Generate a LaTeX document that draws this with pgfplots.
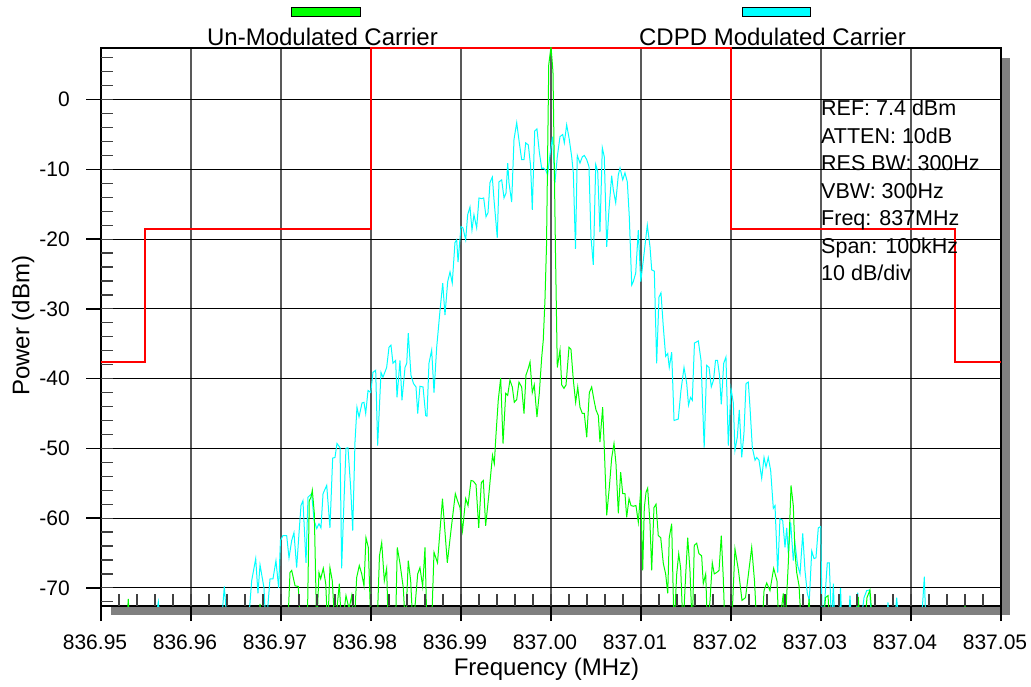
\documentclass[border=0pt]{standalone}
\usepackage{fontspec}
\setmainfont{Liberation Sans}
\usepackage{pgfplots}
\pgfplotsset{compat=1.18}
\definecolor{specgreen}{RGB}{0,255,0}
\definecolor{speccyan}{RGB}{0,255,255}
% x data: frequency offset from the 837 MHz centre, in kHz (tick labels show MHz)
\begin{document}
\begin{tikzpicture}
\useasboundingbox (0pt,0pt) rectangle (1031pt,686pt);
\fill[black!50] (111pt,71pt) rectangle (1010pt,628pt);
\begin{axis}[
  at={(101pt,80pt)}, anchor=south west, scale only axis,
  width=900pt, height=558pt,
  xmin=-50, xmax=50, ymin=-72.6, ymax=7.4,
  xtick={-50,-40,-30,-20,-10,0,10,20,30,40,50},
  xticklabels={836.95,836.96,836.97,836.98,836.99,837.00,837.01,837.02,837.03,837.04,837.05},
  ytick={-70,-60,-50,-40,-30,-20,-10,0},
  yticklabels={-70,-60,-50,-40,-30,-20,-10,0},
  tick pos=left, tick align=outside, major tick length=15pt,
  major tick style={black, line width=1.3pt},
  grid=major,
  x grid style={black!65, line width=1.4pt},
  y grid style={black, line width=1pt},
  axis line style={black, line width=1.3pt},
  axis background/.style={fill=white},
  ticklabel style={font=\fontsize{21}{24}\selectfont, inner sep=0pt},
  xticklabel style={anchor=north, yshift=-14pt, xshift=-6pt},
  yticklabel style={anchor=east, xshift=-16pt},
  xlabel={Frequency (MHz)}, ylabel={Power (dBm)},
  label style={font=\fontsize{24}{28}\selectfont, inner sep=0pt},
  xlabel style={at={(axis description cs:0.495,-0.1237)}, anchor=base},
  ylabel style={at={(axis description cs:-0.0795,0.502)}, anchor=base},
]
\addplot[draw=red, color=red, line width=2pt] coordinates {(-50,-37.6)(-45.1,-37.6)(-45.1,-18.6)(-20,-18.6)(-20,7.4)(20,7.4)(20,-18.6)(44.9,-18.6)(44.9,-37.6)(50,-37.6)};
\addplot[speccyan, line width=1pt] coordinates {(-50,-76)(-44.11,-76)(-43.63,-72.0)(-43.33,-76)(-36.67,-76)(-36.30,-69.8)(-35.94,-76)(-33.67,-76)(-33.26,-69.0)(-32.81,-65.8)(-32.56,-70.8)(-32.33,-66.7)(-31.89,-70.0)(-31.67,-76)(-31.22,-68.7)(-30.89,-68.7)(-30.56,-66.1)(-30.26,-70.0)(-30.06,-63.2)(-29.78,-62.5)(-29.37,-62.5)(-29.11,-65.7)(-28.81,-63.2)(-28.56,-62.1)(-28.26,-67.1)(-28.00,-62.2)(-27.78,-58.2)(-27.56,-57.5)(-27.22,-66.4)(-27.00,-57.0)(-26.59,-56.5)(-26.33,-60.3)(-26.03,-61.5)(-25.78,-60.8)(-25.56,-61.4)(-25.33,-56.5)(-24.92,-55.3)(-24.56,-61.4)(-24.26,-51.4)(-24.00,-51.3)(-23.78,-49.3)(-23.44,-49.9)(-23.26,-67.2)(-23.00,-57.5)(-22.78,-50.0)(-22.56,-49.9)(-22.26,-55.6)(-22.03,-61.8)(-21.78,-49.1)(-21.56,-44.1)(-21.33,-45.5)(-21.00,-43.5)(-20.78,-43.4)(-20.59,-45.0)(-20.33,-41.7)(-20.03,-42.0)(-19.78,-39.1)(-19.48,-38.8)(-19.26,-49.6)(-18.89,-39.1)(-18.67,-39.8)(-18.26,-38.4)(-18.00,-35.5)(-17.78,-35.2)(-17.56,-37.8)(-17.26,-37.4)(-17.11,-42.7)(-16.78,-37.4)(-16.56,-43.1)(-16.22,-38.4)(-16.03,-37.8)(-15.86,-33.5)(-15.56,-39.5)(-15.28,-40.7)(-15.00,-41.2)(-14.81,-45.0)(-14.56,-41.1)(-14.22,-41.2)(-13.92,-45.3)(-13.78,-45.4)(-13.56,-37.8)(-13.26,-35.9)(-13.00,-42.0)(-12.70,-35.5)(-12.33,-30.2)(-12.03,-26.3)(-11.78,-30.9)(-11.48,-26.1)(-11.22,-24.7)(-10.97,-26.3)(-10.67,-20.5)(-10.48,-20.1)(-10.33,-23.3)(-10.00,-18.2)(-9.78,-18.4)(-9.48,-20.1)(-9.26,-16.5)(-9.00,-15.4)(-8.78,-18.7)(-8.56,-16.5)(-8.26,-18.4)(-8.00,-14.1)(-7.70,-14.2)(-7.48,-14.1)(-7.22,-16.8)(-7.00,-16.2)(-6.78,-11.9)(-6.52,-11.1)(-6.33,-14.4)(-5.97,-19.8)(-5.78,-11.8)(-5.48,-11.5)(-5.22,-14.1)(-5.00,-13.4)(-4.81,-9.1)(-4.67,-11.9)(-4.37,-14.7)(-4.11,-5.7)(-3.81,-3.3)(-3.52,-6.2)(-3.26,-8.6)(-3.00,-8.6)(-2.81,-6.2)(-2.52,-6.5)(-2.26,-9.6)(-2.08,-15.8)(-1.81,-4.5)(-1.56,-4.2)(-1.30,-7.5)(-1.03,-9.9)(-0.86,-9.8)(-0.59,-10.1)(-0.37,-10.8)(-0.11,-7.9)(0.17,-5.3)(0.44,-11.9)(0.70,-8.2)(1.00,-5.3)(1.30,-5.0)(1.48,-6.2)(1.74,-3.6)(2.03,-5.7)(2.30,-8.2)(2.48,-10.5)(2.72,-21.4)(2.92,-8.0)(3.22,-9.1)(3.48,-8.2)(3.70,-8.0)(3.97,-8.6)(4.22,-9.6)(4.44,-19.7)(4.70,-23.7)(4.97,-9.3)(5.19,-10.3)(5.44,-19.0)(5.70,-6.9)(5.92,-8.2)(6.19,-21.1)(6.44,-15.8)(6.74,-10.9)(6.92,-12.9)(7.19,-14.8)(7.48,-10.8)(7.67,-9.8)(7.97,-11.5)(8.22,-10.5)(8.48,-11.8)(8.70,-16.8)(8.97,-26.6)(9.14,-26.1)(9.41,-24.9)(9.70,-18.7)(9.97,-26.1)(10.26,-23.0)(10.70,-18.0)(11.00,-21.1)(11.19,-24.4)(11.48,-24.6)(11.74,-37.8)(12.00,-28.3)(12.22,-27.7)(12.48,-32.6)(12.74,-36.8)(12.97,-36.4)(13.14,-38.4)(13.41,-36.2)(13.67,-46.0)(14.14,-45.8)(14.44,-41.7)(14.78,-38.4)(15.08,-40.7)(15.28,-43.8)(15.50,-42.7)(15.70,-43.1)(15.94,-34.9)(16.37,-34.6)(16.67,-37.4)(17.02,-49.9)(17.30,-38.1)(17.56,-38.4)(17.81,-41.2)(18.06,-40.2)(18.28,-37.4)(18.50,-37.4)(18.72,-39.5)(18.92,-43.7)(19.19,-37.8)(19.44,-36.9)(19.70,-49.6)(20.00,-41.4)(20.26,-43.5)(20.44,-50.3)(20.70,-48.4)(20.92,-44.5)(21.19,-51.3)(21.44,-47.8)(21.67,-40.7)(21.92,-40.5)(22.11,-44.1)(22.37,-49.9)(22.67,-51.7)(22.86,-51.3)(23.11,-51.7)(23.41,-54.3)(23.67,-51.3)(23.89,-52.7)(24.14,-51.3)(24.41,-53.2)(24.70,-58.6)(24.89,-58.2)(25.19,-67.8)(25.44,-60.1)(25.74,-60.3)(26.00,-64.2)(26.19,-61.4)(26.37,-65.1)(26.63,-60.6)(26.92,-66.1)(27.11,-63.6)(27.41,-66.8)(27.67,-68.0)(27.97,-62.2)(28.22,-67.5)(28.48,-70.8)(28.70,-71.8)(28.97,-64.7)(29.22,-65.8)(29.44,-65.7)(29.70,-61.4)(29.97,-61.2)(30.14,-76)(30.44,-71.4)(30.70,-66.4)(30.92,-66.4)(31.19,-76)(31.37,-69.4)(31.56,-76)(32.00,-76)(32.17,-70.0)(32.33,-76)(33.00,-76)(33.22,-71.1)(33.44,-76)(33.83,-76)(34.08,-70.7)(34.33,-76)(34.78,-71.4)(35.08,-70.4)(35.39,-70.3)(35.72,-76)(37.22,-76)(37.44,-72.1)(37.67,-76)(38.11,-76)(38.41,-71.4)(38.67,-76)(41.11,-76)(41.48,-68.4)(41.67,-76)(50,-76)};
\addplot[specgreen, line width=1pt] coordinates {(-50,-76)(-47.17,-76)(-46.97,-71.6)(-46.78,-76)(-32.56,-76)(-32.33,-72.3)(-32.11,-76)(-29.26,-76)(-29.00,-67.8)(-28.81,-67.5)(-28.44,-69.7)(-28.08,-69.8)(-27.83,-76)(-27.08,-76)(-26.86,-57.5)(-26.67,-57.0)(-26.52,-56.0)(-26.30,-59.3)(-26.03,-76)(-25.78,-67.8)(-25.59,-68.7)(-25.30,-67.2)(-25.03,-69.4)(-24.81,-76)(-24.56,-67.1)(-24.30,-69.0)(-24.00,-76)(-23.52,-69.4)(-23.26,-76)(-22.78,-71.1)(-22.44,-73)(-22.14,-71.1)(-21.89,-76)(-21.59,-68.5)(-21.30,-66.8)(-21.03,-68.0)(-20.78,-69.7)(-20.56,-62.8)(-20.30,-64.2)(-20.00,-76)(-19.33,-76)(-19.06,-65.4)(-18.81,-63.5)(-18.52,-69.0)(-18.26,-67.2)(-18.08,-76)(-17.28,-76)(-17.08,-64.2)(-16.78,-66.5)(-16.41,-70.0)(-16.17,-76)(-15.86,-66.1)(-15.59,-69.0)(-15.33,-76)(-14.81,-68.0)(-14.56,-67.1)(-14.26,-69.8)(-14.00,-64.2)(-13.78,-76)(-13.28,-76)(-13.00,-64.9)(-12.61,-66.4)(-12.06,-57.2)(-11.52,-66.4)(-11.08,-61.4)(-10.63,-56.5)(-10.39,-57.5)(-10.11,-58.5)(-9.83,-61.8)(-9.48,-57.2)(-9.22,-58.2)(-8.89,-54.6)(-8.63,-54.7)(-8.33,-55.2)(-8.03,-61.4)(-7.74,-54.9)(-7.52,-54.6)(-7.26,-61.1)(-6.92,-56.8)(-6.50,-51.0)(-6.30,-52.2)(-6.11,-48.0)(-5.86,-43.1)(-5.59,-39.9)(-5.33,-49.3)(-5.03,-42.1)(-4.81,-42.4)(-4.56,-40.2)(-4.30,-41.2)(-4.08,-43.4)(-3.81,-43.0)(-3.56,-40.5)(-3.26,-41.2)(-3.00,-45.0)(-2.78,-39.5)(-2.52,-38.5)(-2.33,-37.6)(-2.08,-42.0)(-1.86,-40.9)(-1.56,-45.5)(-1.30,-42.1)(-1.03,-36.9)(-0.86,-34.5)(-0.67,-28.7)(-0.50,-21.0)(-0.25,5.0)(0,7.6)(0.22,4.0)(0.50,-22.0)(0.70,-38.4)(1.00,-35.9)(1.19,-40.9)(1.44,-41.4)(1.67,-40.9)(2.00,-35.5)(2.22,-35.8)(2.48,-40.2)(2.74,-43.4)(2.97,-41.2)(3.22,-44.1)(3.48,-45.0)(3.70,-45.0)(3.97,-48.4)(4.26,-42.0)(4.52,-41.2)(4.78,-43.1)(5.00,-44.5)(5.26,-45.3)(5.44,-49.1)(5.74,-44.1)(5.92,-49.9)(6.19,-59.6)(6.48,-55.6)(6.74,-51.4)(7.00,-49.3)(7.22,-52.2)(7.48,-59.3)(7.74,-53.4)(7.97,-56.5)(8.22,-56.5)(8.41,-59.9)(8.67,-57.2)(8.89,-58.2)(9.14,-58.3)(9.44,-58.2)(9.70,-60.6)(9.97,-56.0)(10.19,-67.5)(10.37,-58.5)(10.56,-56.3)(10.74,-55.7)(11.00,-60.8)(11.19,-67.5)(11.44,-58.5)(11.67,-58.0)(11.92,-62.5)(12.19,-62.8)(12.48,-66.5)(12.74,-68.0)(12.97,-70.8)(13.14,-62.8)(13.41,-60.8)(13.67,-76)(13.97,-68.0)(14.19,-65.1)(14.41,-67.2)(14.67,-76)(14.97,-68.0)(15.19,-62.8)(15.44,-67.5)(15.70,-76)(15.92,-63.9)(16.19,-63.6)(16.44,-65.1)(16.74,-65.4)(16.92,-69.4)(17.19,-68.0)(17.39,-76)(17.67,-71.8)(17.92,-66.4)(18.14,-68.0)(18.41,-67.8)(18.67,-67.5)(18.92,-62.5)(19.14,-68.5)(19.33,-76)(20.06,-76)(20.44,-64.4)(20.83,-67.5)(21.22,-71.8)(21.61,-71.4)(21.92,-68.2)(22.30,-64.2)(22.61,-69.0)(22.89,-76)(23.44,-76)(23.67,-70.4)(23.97,-69.3)(24.33,-70.4)(24.74,-67.2)(25.11,-69.0)(25.33,-76)(25.81,-70.8)(26.00,-76)(26.37,-66.4)(26.67,-55.3)(26.92,-58.2)(27.11,-64.9)(27.30,-67.8)(27.56,-69.7)(27.83,-76)(28.44,-76)(28.67,-71.6)(28.89,-76)(30.22,-76)(30.50,-71.4)(30.78,-71.1)(31.00,-76)(33.89,-76)(34.14,-71.3)(34.39,-76)(34.83,-76)(35.11,-71.4)(35.44,-70.3)(35.78,-76)(45.78,-76)(46.00,-72.3)(46.22,-76)(50,-76)};
\end{axis}
% inner minor ticks
\begin{axis}[
  at={(101pt,80pt)}, anchor=south west, scale only axis,
  width=900pt, height=558pt,
  xmin=-50, xmax=50, ymin=-72.6, ymax=7.4,
  xtick={-48,-46,...,48},
  ytick={-72,-70,...,6},
  xticklabels={}, yticklabels={},
  tick pos=left, tick align=inside, major tick length=12pt,
  major tick style={black!75, line width=1.2pt},
  axis line style={draw=none},
]
\end{axis}
% legend above the plot
\filldraw[fill=specgreen, draw=black, line width=0.8pt] (291.5pt,670pt) rectangle (360.5pt,679pt);
\filldraw[fill=speccyan, draw=black, line width=0.8pt] (742pt,670pt) rectangle (810pt,679pt);
\node[anchor=base, inner sep=0pt, font=\fontsize{24}{28}\selectfont] at (322.5pt,640.5pt) {Un-Modulated Carrier};
\node[anchor=base, inner sep=0pt, font=\fontsize{24}{28}\selectfont] at (772.5pt,640.5pt) {CDPD Modulated Carrier};
% instrument settings
\begin{scope}[every node/.style={anchor=base west, inner sep=0pt, font=\fontsize{21.5}{24}\selectfont}]
\node at (821pt,570pt) {REF: 7.4 dBm};
\node at (821pt,542.5pt) {ATTEN: 10dB};
\node at (821pt,515pt) {RES BW: 300Hz};
\node at (821pt,487.5pt) {VBW: 300Hz};
\node at (821pt,460pt) {Freq: 837MHz};
\node at (821pt,432.5pt) {Span: 100kHz};
\node at (821pt,405pt) {10 dB/div};
\end{scope}
\end{tikzpicture}
\end{document}
